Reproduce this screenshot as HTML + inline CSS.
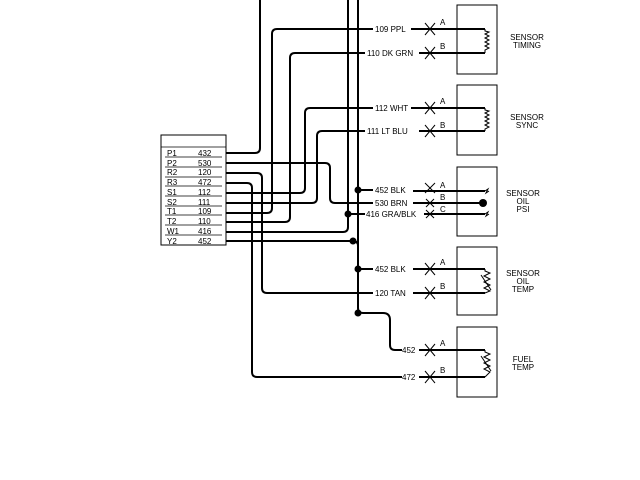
<!DOCTYPE html>
<html><head><meta charset="utf-8"><style>
html,body{margin:0;padding:0;background:#fff;}
svg{display:block;}
text{font-family:"Liberation Sans",sans-serif;fill:#000;}
</style></head><body>
<svg width="640" height="480" viewBox="0 0 640 480" xmlns="http://www.w3.org/2000/svg">
<g fill="none" stroke="#000" stroke-width="2">
<!-- connector box -->
<rect x="161" y="135" width="65" height="110" stroke-width="1"/>
</g>
<g stroke="#000" stroke-width="0.8">
<line x1="161" y1="147" x2="226" y2="147"/>
<line x1="165" y1="157" x2="222" y2="157"/>
<line x1="165" y1="167" x2="222" y2="167"/>
<line x1="165" y1="177" x2="222" y2="177"/>
<line x1="165" y1="186" x2="222" y2="186"/>
<line x1="165" y1="196" x2="222" y2="196"/>
<line x1="165" y1="206" x2="222" y2="206"/>
<line x1="165" y1="215" x2="222" y2="215"/>
<line x1="165" y1="225" x2="222" y2="225"/>
<line x1="165" y1="235" x2="222" y2="235"/>
</g>
<g font-size="8">
<text x="167" y="156">P1</text><text x="198" y="156">432</text>
<text x="167" y="166">P2</text><text x="198" y="166">530</text>
<text x="167" y="175">R2</text><text x="198" y="175">120</text>
<text x="167" y="185">R3</text><text x="198" y="185">472</text>
<text x="167" y="195">S1</text><text x="198" y="195">112</text>
<text x="167" y="205">S2</text><text x="198" y="205">111</text>
<text x="167" y="214">T1</text><text x="198" y="214">109</text>
<text x="167" y="224">T2</text><text x="198" y="224">110</text>
<text x="167" y="234">W1</text><text x="198" y="234">416</text>
<text x="167" y="244">Y2</text><text x="198" y="244">452</text>
</g>
<g fill="none" stroke="#000" stroke-width="2" stroke-linejoin="round">
<!-- P1 -->
<path d="M226 153 H255 Q260 153 260 148 V0"/>
<!-- P2 -->
<path d="M226 163 H325 Q330 163 330 168 V198 Q330 203 335 203 H373"/>
<!-- R2 -->
<path d="M226 173 H257 Q262 173 262 178 V288 Q262 293 267 293 H373"/>
<!-- R3 -->
<path d="M226 183 H247 Q252 183 252 188 V372 Q252 377 257 377 H402"/>
<!-- S1 -->
<path d="M226 193 H300 Q305 193 305 188 V113 Q305 108 310 108 H373"/>
<!-- S2 -->
<path d="M226 203 H312 Q317 203 317 198 V136 Q317 131 322 131 H365"/>
<!-- T1 -->
<path d="M226 213 H267 Q272 213 272 208 V34 Q272 29 277 29 H373"/>
<!-- T2 -->
<path d="M226 222 H285 Q290 222 290 217 V58 Q290 53 295 53 H365"/>
<!-- W1 -->
<path d="M226 232 H343 Q348 232 348 227 V0"/>
<!-- Y2 -->
<path d="M226 241 H353 Q358 241 358 246 V0"/>
<path d="M358 246 V308 Q358 313 363 313 H383 Q390 313 390 320 V345 Q390 350 395 350 H402"/>
<!-- taps -->
<path d="M358 190 H373"/>
<path d="M348 214 H365"/>
<path d="M358 269 H373"/>
</g>
<g fill="#000">
<circle cx="358" cy="190" r="3.5"/>
<circle cx="348" cy="214" r="3.5"/>
<circle cx="353" cy="241" r="3.5"/>
<circle cx="358" cy="269" r="3.5"/>
<circle cx="358" cy="313" r="3.5"/>
</g>
<g font-size="8">
<text x="375" y="32">109 PPL</text>
<text x="367" y="56">110 DK GRN</text>
<text x="375" y="111">112 WHT</text>
<text x="367" y="134">111 LT BLU</text>
<text x="375" y="193">452 BLK</text>
<text x="375" y="206">530 BRN</text>
<text x="366" y="217">416 GRA/BLK</text>
<text x="375" y="272">452 BLK</text>
<text x="375" y="296">120 TAN</text>
<text x="402" y="353">452</text>
<text x="402" y="380">472</text>
</g>
<!-- sensor side wires -->
<g fill="none" stroke="#000" stroke-width="2">
<path d="M411 29 H485 M419 53 H485"/>
<path d="M411 108 H485 M419 131 H485"/>
<path d="M413 191 H485 M413 203 H485 M424 214 H485"/>
<path d="M413 269 H485 M413 293 H485"/>
<path d="M419 350 H485 M419 377 H485"/>
</g>
<!-- crosses -->
<g stroke="#000" stroke-width="1" fill="none">
<path d="M425 23 L435 35 M435 23 L425 35"/>
<path d="M425 47 L435 59 M435 47 L425 59"/>
<path d="M425 102 L435 114 M435 102 L425 114"/>
<path d="M425 125 L435 137 M435 125 L425 137"/>
<path d="M425 183 L435 193"/><path d="M435 183 L425 193"/>
<path d="M426 199 L430 203 L426 207 M434 199 L430 203 L434 207" />
<path d="M426 210 L430 214 L434 218 M434 210 L430 214 L426 218"/>
<path d="M425 263 L435 275 M435 263 L425 275"/>
<path d="M425 287 L435 299 M435 287 L425 299"/>
<path d="M425 344 L435 356 M435 344 L425 356"/>
<path d="M425 371 L435 383 M435 371 L425 383"/>
<!-- boxes -->
<rect x="457" y="5" width="40" height="69"/>
<rect x="457" y="85" width="40" height="70"/>
<rect x="457" y="167" width="40" height="69"/>
<rect x="457" y="247" width="40" height="68"/>
<rect x="457" y="327" width="40" height="70"/>
<!-- coils -->
<path d="M485 29 L485 31 L489 32 L485 34 L489 36 L485 38 L489 40 L485 42 L489 44 L485 46 L489 48 L485 50 L485 53"/>
<path d="M485 108 L485 110 L489 111 L485 113 L489 115 L485 117 L489 119 L485 121 L489 123 L485 125 L489 127 L485 129 L485 131"/>
<path d="M485 191 L488 189 L486 193 L489 191"/>
<path d="M485 214 L488 212 L486 216 L489 214"/>
<path d="M485 269 L485 271 L490 273 L484 276 L490 279 L484 282 L490 285 L484 288 L490 291 L485 293"/>
<path d="M481 275 L491 290"/>
<path d="M485 350 L485 352 L490 354 L484 357 L490 360 L484 363 L490 366 L484 369 L490 372 L485 377"/>
<path d="M481 356 L491 371"/>
</g>
<circle cx="483" cy="203" r="4" fill="#000"/>
<g font-size="8">
<text x="440" y="25">A</text><text x="440" y="49">B</text>
<text x="440" y="104">A</text><text x="440" y="128">B</text>
<text x="440" y="188">A</text><text x="440" y="200">B</text><text x="440" y="212">C</text>
<text x="440" y="265">A</text><text x="440" y="289">B</text>
<text x="440" y="346">A</text><text x="440" y="373">B</text>
</g>
<g font-size="8" text-anchor="middle">
<text x="527" y="40">SENSOR</text><text x="527" y="48">TIMING</text>
<text x="527" y="120">SENSOR</text><text x="527" y="128">SYNC</text>
<text x="523" y="196">SENSOR</text><text x="523" y="204">OIL</text><text x="523" y="212">PSI</text>
<text x="523" y="276">SENSOR</text><text x="523" y="284">OIL</text><text x="523" y="292">TEMP</text>
<text x="523" y="362">FUEL</text><text x="523" y="370">TEMP</text>
</g>
</svg>
</body></html>
